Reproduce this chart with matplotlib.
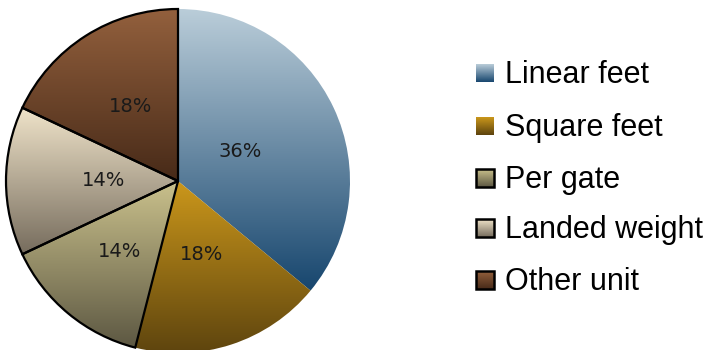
import numpy as np
import matplotlib.pyplot as plt
from matplotlib.colors import LinearSegmentedColormap

# Share of charging units
units = ["Linear feet", "Square feet", "Per gate", "Landed weight", "Other unit"]
shares = [36, 18, 14, 14, 18]

# top / bottom colours of each slice gradient
top_colors = ["#bacdd9", "#cb971b", "#cac18c", "#f0e4ca", "#93603d"]
bottom_colors = ["#17466e", "#5c430e", "#5c5742", "#766c5d", "#472a18"]
outlined = [False, False, True, True, True]

# radial position of each percentage label (fraction of radius)
label_dist = [0.40, 0.45, 0.53, 0.43, 0.51]

W, H = 720, 350
fig = plt.figure(figsize=(W / 100, H / 100), dpi=100)

# pie axes: centre at (178, 181) px, radius 172 px
r_px = 172
ax = fig.add_axes([(178 - r_px) / W, (H - 181 - r_px) / H, 2 * r_px / W, 2 * r_px / H])
ax.set_aspect("equal")
ax.axis("off")

wedges, texts, autotexts = ax.pie(
    shares, startangle=90, counterclock=False, radius=1,
    autopct="%d%%", pctdistance=0.47,
    wedgeprops=dict(facecolor="none", linewidth=0),
    textprops=dict(fontsize=14, color="#1a1a1a", family="DejaVu Sans"),
)
ax.set_xlim(-1, 1)
ax.set_ylim(-1, 1)

grad = np.linspace(0, 1, 256).reshape(-1, 1)
for w, t, d, c0, c1, edge in zip(wedges, autotexts, label_dist,
                                 top_colors, bottom_colors, outlined):
    cmap = LinearSegmentedColormap.from_list("g", [c0, c1])
    verts = w.get_path().vertices
    y0, y1 = verts[:, 1].min(), verts[:, 1].max()
    x0, x1 = verts[:, 0].min(), verts[:, 0].max()
    im = ax.imshow(grad, cmap=cmap, aspect="auto", extent=[x0, x1, y0, y1],
                   origin="upper", zorder=1, interpolation="bilinear")
    im.set_clip_path(w)
    if edge:
        w.set_edgecolor("black")
        w.set_linewidth(1.6)
    w.set_zorder(3)
    mid = np.deg2rad((w.theta1 + w.theta2) / 2)
    t.set_position((d * np.cos(mid), d * np.sin(mid)))
    t.set_zorder(4)

# legend drawn as gradient squares with labels
lax = fig.add_axes([0, 0, 1, 1])
lax.axis("off")
row_y = [73, 126, 178, 228, 280]
for yc, name, c0, c1, edge in zip(row_y, units, top_colors, bottom_colors, outlined):
    cmap = LinearSegmentedColormap.from_list("g", [c0, c1])
    lax.imshow(grad, cmap=cmap, aspect="auto", extent=[476, 494, yc + 9, yc - 9],
               zorder=1, interpolation="bilinear")
    if edge:
        lax.add_patch(plt.Rectangle((476, yc - 9), 18, 18, fill=False,
                                    edgecolor="black", linewidth=1.8, zorder=2))
    lax.text(505, yc + 10, name, fontsize=22, family="Liberation Sans",
             va="baseline", ha="left", color="black")
lax.set_xlim(0, W)
lax.set_ylim(H, 0)

fig.savefig("out.png", dpi=100)
